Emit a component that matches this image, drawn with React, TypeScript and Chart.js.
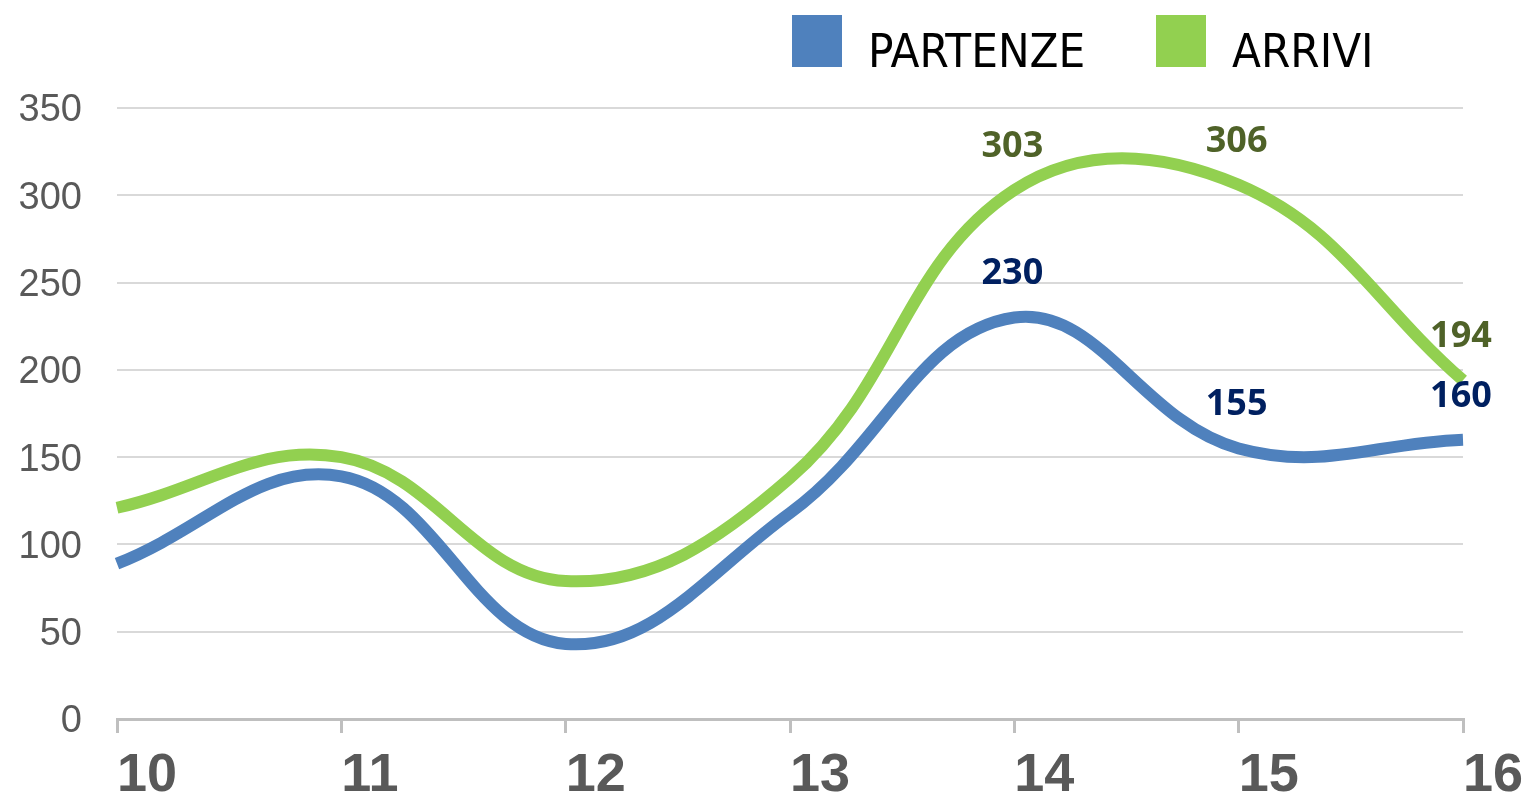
import React, { useEffect, useRef } from "react";
import { Chart, registerables } from "chart.js";

Chart.register(...registerables);

const categories = ["10", "11", "12", "13", "14", "15", "16"];
const partenze = [89, 139, 43, 118, 230, 155, 160];
const arrivi = [121, 150, 79, 138, 303, 306, 194];
const showLabel = [false, false, false, false, true, true, true];
const yTicks = [0, 50, 100, 150, 200, 250, 300, 350];

const BLUE = "#4F81BD";
const GREEN = "#92D050";
const BLUE_LABEL = "#002060";
const GREEN_LABEL = "#4F6228";

const dataLabelPlugin = {
  id: "dataLabels",
  afterDatasetsDraw(chart: any) {
    const ctx = chart.ctx;
    ctx.save();
    ctx.font = "bold 36px 'Open Sans', 'Noto Sans', sans-serif";
    ctx.textAlign = "center";
    ctx.textBaseline = "alphabetic";
    chart.data.datasets.forEach((ds: any, di: number) => {
      const meta = chart.getDatasetMeta(di);
      ctx.fillStyle = ds.labelColor;
      meta.data.forEach((pt: any, i: number) => {
        if (!showLabel[i]) return;
        ctx.fillText(String(ds.data[i]), pt.x - 2, pt.y - 33);
      });
    });
    ctx.restore();
  },
};

const legendPlugin = {
  id: "customLegend",
  afterDraw(chart: any) {
    const ctx = chart.ctx;
    ctx.save();
    ctx.font = "47px 'Liberation Sans Narrow', 'DejaVu Sans Condensed', sans-serif";
    ctx.textBaseline = "alphabetic";
    ctx.textAlign = "left";
    const xs = [792, 1156];
    chart.data.datasets.forEach((ds: any, di: number) => {
      const x = xs[di];
      ctx.fillStyle = ds.borderColor;
      ctx.fillRect(x, 15, 50, 52);
      ctx.fillStyle = "#000000";
      ctx.fillText(ds.label, x + 76, 67);
    });
    ctx.restore();
  },
};

export default function App() {
  const ref = useRef<HTMLCanvasElement | null>(null);
  useEffect(() => {
    document.body.style.margin = "0";
    const chart = new Chart(ref.current as HTMLCanvasElement, {
      type: "line",
      data: {
        labels: categories,
        datasets: [
          {
            label: "PARTENZE",
            data: partenze,
            borderColor: BLUE,
            backgroundColor: BLUE,
            borderWidth: 12,
            pointRadius: 0,
            tension: 0.4,
            labelColor: BLUE_LABEL,
          } as any,
          {
            label: "ARRIVI",
            data: arrivi,
            borderColor: GREEN,
            backgroundColor: GREEN,
            borderWidth: 12,
            pointRadius: 0,
            tension: 0.4,
            labelColor: GREEN_LABEL,
          } as any,
        ],
      },
      options: {
        responsive: false,
        animation: false,
        layout: { padding: { top: 108, right: 0, left: 0, bottom: 0 } },
        plugins: {
          legend: { display: false },
          tooltip: { enabled: false },
        },
        scales: {
          x: {
            offset: false,
            afterFit: (scale: any) => {
              scale.height = 78;
              scale.paddingRight = 64;
            },
            grid: {
              display: true,
              drawOnChartArea: false,
              drawTicks: true,
              tickLength: 14,
              color: "#BFBFBF",
              lineWidth: 3,
            },
            border: { display: true, color: "#BFBFBF", width: 3 },
            ticks: {
              align: "start",
              color: "#595959",
              padding: 11,
              font: { family: "'Liberation Sans', Arial, sans-serif", size: 54, weight: "bold" },
              maxRotation: 0,
            },
          },
          y: {
            min: 0,
            max: 350,
            afterBuildTicks: (scale: any) => {
              scale.ticks = yTicks.map((v) => ({ value: v }));
            },
            afterFit: (scale: any) => {
              scale.width = 117;
            },
            grid: {
              color: "#D9D9D9",
              lineWidth: 2,
              drawTicks: false,
            },
            border: { display: false },
            ticks: {
              color: "#595959",
              padding: 35,
              labelOffset: 3,
              font: { family: "'Liberation Sans', Arial, sans-serif", size: 38 },
            },
          },
        },
      },
      plugins: [dataLabelPlugin, legendPlugin],
    } as any);
    return () => chart.destroy();
  }, []);
  return (
    <div style={{ width: 1527, height: 797 }}>
      <canvas ref={ref} width={1527} height={797} />
    </div>
  );
}
